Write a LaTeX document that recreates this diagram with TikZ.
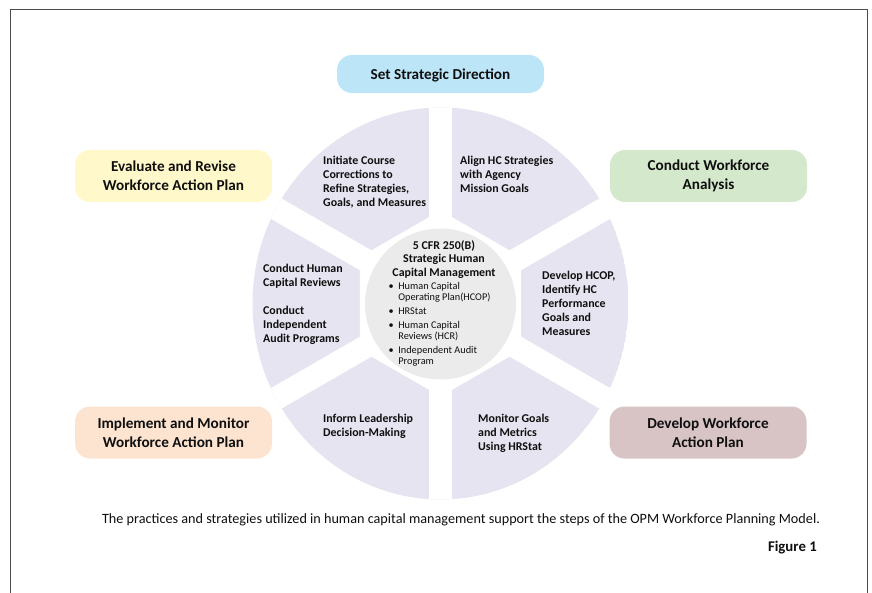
\documentclass[tikz,border=0pt]{standalone}
\usepackage{fontspec}
\setmainfont{Carlito}
\definecolor{wheelc}{RGB}{229,228,240}
\definecolor{hubc}{RGB}{235,235,235}
\definecolor{bluec}{RGB}{189,229,248}
\definecolor{yellowc}{RGB}{255,248,202}
\definecolor{greenc}{RGB}{212,232,204}
\definecolor{peachc}{RGB}{252,228,208}
\definecolor{mauvec}{RGB}{216,196,196}
\definecolor{inkc}{RGB}{15,15,15}
\tikzset{
  stepbox/.style={rounded corners=15pt, minimum width=197pt, minimum height=52pt,
    align=center, inner sep=0pt, text=inkc,
    font=\fontsize{15.2}{18.8}\selectfont\bfseries},
  segtext/.style={anchor=north west, align=left, inner sep=0pt, text=inkc,
    font=\fontsize{11.9}{14}\selectfont\bfseries},
  frameline/.style={draw=black!70, line width=0.8pt}
}
\begin{document}
\begin{tikzpicture}[x=1pt,y=-1pt]
\useasboundingbox (0,0) rectangle (872,593);
% frame
\coordinate (fbl) at (10,593);
\coordinate (ftl) at (10,9);
\coordinate (ftr) at (867,9);
\coordinate (fbr) at (867,593);
\draw[frameline] (fbl) -- (ftl) -- (ftr) -- (fbr);
% wheel
\coordinate (c) at (440.5,303.5);
\begin{scope}
  \clip (c) ellipse [x radius=188, y radius=196];
  \fill[wheelc] (c) ellipse [x radius=188, y radius=196];
  \fill[white, shift={(440.5,303.5)}] (30:93) -- (90:93) -- (150:93) -- (210:93) -- (270:93) -- (330:93) -- cycle;
  \foreach \a in {30,90,150,210,270,330}
    \draw[white, line width=23pt] (c) -- ++(\a:215);
\end{scope}
\node[circle, fill=hubc, minimum size=151pt, inner sep=0pt] (hub) at (440.5,304) {};
% hub text
\node[anchor=north, align=center, inner sep=0pt, text=inkc,
  font=\fontsize{11.9}{13.8}\selectfont\bfseries] (hubtitle) at (444,240)
  {5 CFR 250(B)\\Strategic Human\\Capital Management};
\node[anchor=north west, inner sep=0pt, text=inkc] (hublist) at (388.5,282.3)
  {\fontsize{10.3}{10.7}\selectfont
   \begin{tabular}{@{}l@{\hspace{4.5pt}}l@{}}
   \textbullet & Human Capital\\
               & Operating Plan(HCOP)\\[3.4pt]
   \textbullet & HRStat\\[3.4pt]
   \textbullet & Human Capital\\
               & Reviews (HCR)\\[3.4pt]
   \textbullet & Independent Audit\\
               & Program
   \end{tabular}};
% segment texts
\node[segtext] (s1) at (323,156) {Initiate Course\\Corrections to\\Refine Strategies,\\Goals, and Measures};
\node[segtext] (s2) at (460,156) {Align HC Strategies\\with Agency\\Mission Goals};
\node[segtext] (s3) at (542,270.5) {Develop HCOP,\\Identify HC\\Performance\\Goals and\\Measures};
\node[segtext] (s4) at (478,414) {Monitor Goals\\and Metrics\\Using HRStat};
\node[segtext] (s5) at (323,414) {Inform Leadership\\Decision-Making};
\node[segtext] (s6) at (263,264.3) {Conduct Human\\Capital Reviews\\[14pt]Conduct\\Independent\\Audit Programs};
% step boxes
\node[stepbox, fill=bluec, minimum width=207pt, minimum height=38pt, text depth=0pt] (b1) at (440.5,74) {Set Strategic Direction};
\node[stepbox, fill=greenc] (b2) at (708.5,176) {Conduct Workforce\\Analysis};
\node[stepbox, fill=mauvec] (b3) at (708,432.5) {Develop Workforce\\Action Plan};
\node[stepbox, fill=peachc] (b4) at (173.5,432.5) {Implement and Monitor\\Workforce Action Plan};
\node[stepbox, fill=yellowc] (b5) at (173.5,176) {Evaluate and Revise\\Workforce Action Plan};
% caption
\node[inner sep=0pt, text=inkc, font=\fontsize{14.2}{16}\selectfont] (cap) at (461,520)
  {The practices and strategies utilized in human capital management support the steps of the OPM Workforce Planning Model.};
\node[anchor=east, inner sep=0pt, text=inkc, font=\fontsize{14.8}{17}\selectfont\bfseries] (fig) at (817,548) {Figure 1};
\end{tikzpicture}
\end{document}
